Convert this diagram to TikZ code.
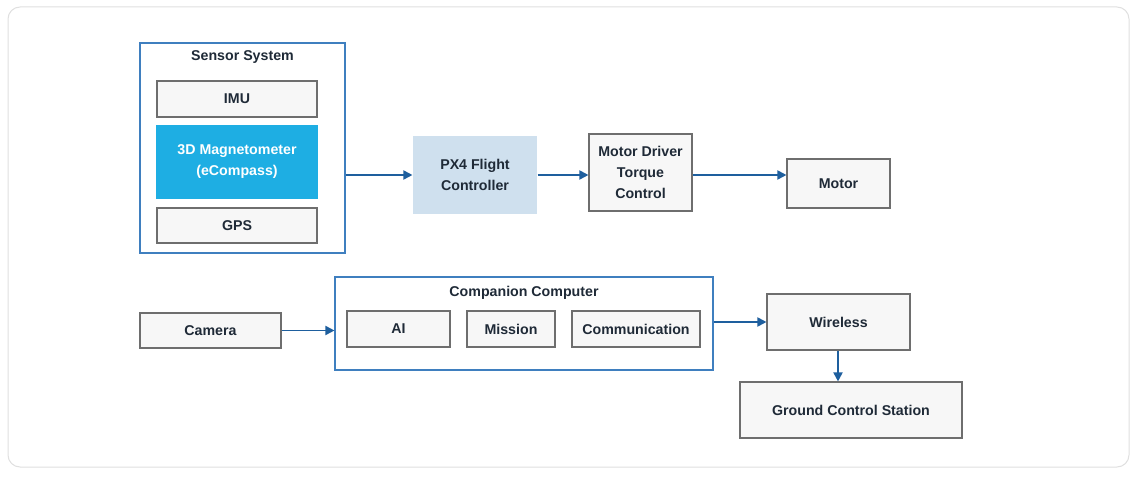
\documentclass[tikz,border=0pt]{standalone}
\usepackage{fontspec}
\setmainfont{Liberation Sans}
\usetikzlibrary{arrows.meta}
\definecolor{edgeblue}{HTML}{3F7FBF}
\definecolor{arrowblue}{HTML}{1E5F9E}
\definecolor{boxgray}{HTML}{6E6E6E}
\definecolor{boxfill}{HTML}{F7F7F7}
\definecolor{magblue}{HTML}{1EAEE3}
\definecolor{pxfill}{HTML}{CFE0EE}
\definecolor{textdark}{HTML}{1F2A37}
\begin{document}
\begin{tikzpicture}[x=1pt,y=-1pt,font=\bfseries\fontsize{14.2}{21}\selectfont,text=textdark]

			\tikzstyle{block}=[fill=boxfill,draw=boxgray,line width=1.1pt,
				inner sep=0pt,align=center]
			\tikzstyle{group}=[draw=edgeblue,line width=1.1pt,inner sep=0pt]
			\tikzstyle{link}=[draw=arrowblue,line width=1.8pt,-{Triangle[length=9pt,width=9pt]}]

			\useasboundingbox (0,0) rectangle (1141,481);
			\draw[draw=black!12,line width=1pt,rounded corners=12pt,fill=white] (8,7) rectangle (1129,467);

			% sensor group
			\node[group,minimum width=205pt,minimum height=210pt] (sensors) at (242.5,148) {};
			\node at (242.5,57) {Sensor System};
			\node[block,minimum width=160pt,minimum height=36pt] (imu) at (237,99) {IMU};
			\node[block,fill=magblue,draw=magblue,text=white,minimum width=160pt,minimum height=72pt] (mag) at (237,162) {3D Magnetometer\\(eCompass)};
			\node[block,minimum width=160pt,minimum height=35pt] (gps) at (237,225.5) {GPS};

			\node[block,fill=pxfill,draw=none,minimum width=124pt,minimum height=78pt] (px4) at (475,175) {PX4 Flight\\Controller};
			\node[block,minimum width=103pt,minimum height=77pt] (driver) at (640.5,172.5) {Motor Driver\\Torque\\Control};
			\node[block,minimum width=103pt,minimum height=49pt] (motor) at (838.5,183.5) {Motor};

			% companion group
			\node[group,minimum width=378pt,minimum height=93pt] (companion) at (524,323.5) {};
			\node at (524,293) {Companion Computer};
			\node[block,minimum width=103pt,minimum height=36pt] (ai) at (398.5,329) {AI};
			\node[block,minimum width=88pt,minimum height=36pt] (mission) at (511,329) {Mission};
			\node[block,minimum width=128pt,minimum height=36pt] (comm) at (636,329) {Communication};

			\node[block,minimum width=141pt,minimum height=35pt] (camera) at (210.5,330.5) {Camera};
			\node[block,minimum width=143pt,minimum height=56pt] (wireless) at (838.5,322) {Wireless};
			\node[block,minimum width=222pt,minimum height=56pt] (gcs) at (851,410) {Ground Control Station};

			\draw[link] (sensors.east |- px4) -- (px4);
			\draw[link] (px4.east) -- (px4.east -| driver.west);
			\draw[link] (driver.east |- px4) -- (motor.west |- px4);
			\draw[link] (camera) -- (camera -| companion.west);
			\draw[link] (companion.east |- wireless) -- (wireless);
			\draw[link] (wireless.south -| 838,0) -- (gcs.north -| 838,0);

		\end{tikzpicture}
\end{document}
